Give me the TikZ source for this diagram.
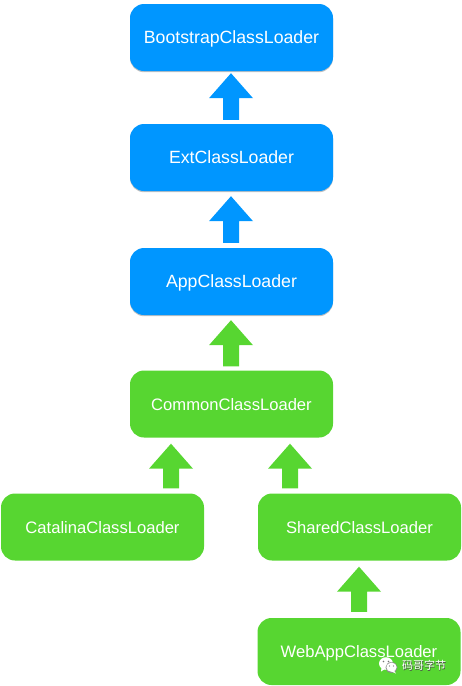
\documentclass[tikz,border=0pt]{standalone}
\usepackage{fontspec}
\setmainfont{Liberation Sans}
\newfontfamily\cjkwm{Noto Sans CJK SC}
\usetikzlibrary{calc,shadows}
\definecolor{loaderblue}{HTML}{0096FF}
\definecolor{loadergreen}{HTML}{57D631}
\tikzset{
  loader/.style={rounded corners=14pt,inner sep=0pt,text=white,text height=12.8pt,text depth=0pt,minimum height=67pt,minimum width=203pt},
  blueloader/.style={loader,font=\fontsize{17.7}{20}\selectfont,fill=loaderblue,drop shadow={shadow xshift=0pt,shadow yshift=-1.2pt,opacity=.35,fill=black!70}},
  greenloader/.style={loader,font=\fontsize{16.6}{20}\selectfont,fill=loadergreen},
  wmark/.style={font=\cjkwm\fontsize{11}{13}\selectfont,inner sep=0pt}
}
% colour, from, to, x, tip gap, tail gap
\newcommand{\blockarrow}[6]{%
  \fill[#1] let \p1=(#2.north),\p2=(#3.south) in
    (#4-8pt,\y1+#6pt) -- (#4-8pt,\y2-#5pt-25pt) -- (#4-22pt,\y2-#5pt-25pt) -- (#4pt,\y2-#5pt)
    -- (#4+22pt,\y2-#5pt-25pt) -- (#4+8pt,\y2-#5pt-25pt) -- (#4+8pt,\y1+#6pt) -- cycle;}
\begin{document}
\begin{tikzpicture}[x=1pt,y=-1pt]
\useasboundingbox (0,0) rectangle (461,686);
\node[blueloader] (boot) at (231.5,37.5) {BootstrapClassLoader};
\node[blueloader] (ext) at (231.5,157.5) {ExtClassLoader};
\node[blueloader] (app) at (231.5,281.5) {AppClassLoader};
\node[greenloader] (common) at (231.5,404) {CommonClassLoader};
\node[greenloader] (cat) at (102.5,527) {CatalinaClassLoader};
\node[greenloader] (shared) at (359.5,527) {SharedClassLoader};
\node[greenloader] (web) at (359,651.5) {WebAppClassLoader};
\blockarrow{loaderblue}{ext}{boot}{231}{2}{4}
\blockarrow{loaderblue}{app}{ext}{231}{5}{5}
\blockarrow{loadergreen}{common}{app}{231}{5}{4}
\blockarrow{loadergreen}{cat}{common}{171}{6}{5}
\blockarrow{loadergreen}{shared}{common}{290}{6}{5}
\blockarrow{loadergreen}{web}{shared}{359}{6}{6}
% watermark icon
\fill[white] (386,663.5) ellipse [x radius=7pt,y radius=6.3pt];
\fill[white] (381.5,667.5) -- (381,671.5) -- (385,669) -- cycle;
\fill[black!55] (383.5,661.5) circle (.9pt) (388.5,661.5) circle (.9pt);
\fill[black!45] (391.5,667.5) ellipse [x radius=6pt,y radius=5.4pt];
\fill[white] (391.5,667.2) ellipse [x radius=5.2pt,y radius=4.6pt];
\fill[white] (394,670.5) -- (396,673.5) -- (391.5,671.5) -- cycle;
\fill[black!55] (389.5,666) circle (.7pt) (393.5,666) circle (.7pt);
\node[wmark,text=black!70] (wmshadow) at (424.7,666.2) {码哥字节};
\node[wmark,text=white] (wmtext) at (424,665.5) {码哥字节};
\end{tikzpicture}
\end{document}
